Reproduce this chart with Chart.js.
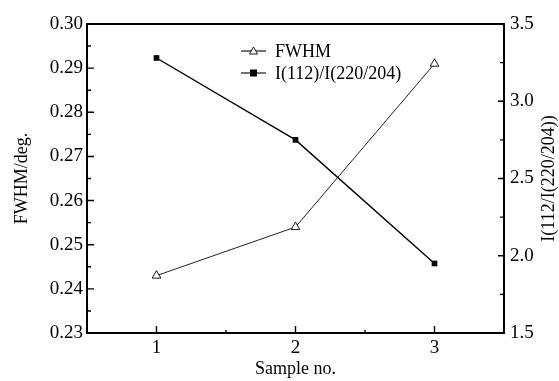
<!DOCTYPE html>
<html>
<head>
<meta charset="utf-8">
<script src="https://cdn.jsdelivr.net/npm/chart.js@4/dist/chart.umd.min.js"></script>
<style>
html,body{margin:0;padding:0;background:#fff;}
#wrap{width:559px;height:381px;position:relative;}
</style>
</head>
<body>
<div id="wrap"><canvas id="c" width="559" height="381"></canvas></div>
<script>
const samples = [1, 2, 3];
const fwhm = [0.243, 0.254, 0.291];
const ratio = [3.28, 2.75, 1.95];
const xTicks = [1, 2, 3];
const yTicks = [0.23, 0.24, 0.25, 0.26, 0.27, 0.28, 0.29, 0.30];
const y1Ticks = [1.5, 2.0, 2.5, 3.0, 3.5];
const seriesNames = ['FWHM', 'I(112)/I(220/204)'];
const xTitle = 'Sample no.';
const yTitle = 'FWHM/deg.';
const y1Title = 'I(112/I(220/204))';

const FONT = "'Liberation Serif', 'Times New Roman', serif";
Chart.defaults.font.family = FONT;
Chart.defaults.color = '#000';

const framePlugin = {
  id: 'frame',
  afterDraw(chart) {
    const ctx = chart.ctx;
    const a = chart.chartArea;
    const sx = chart.scales.x, sy = chart.scales.y, sy1 = chart.scales.y1;
    ctx.save();
    ctx.strokeStyle = '#000';
    ctx.lineWidth = 2;
    ctx.strokeRect(a.left, a.top, a.right - a.left, a.bottom - a.top);
    ctx.lineWidth = 1.4;
    ctx.beginPath();
    for (let v = 0.23; v <= 0.3001; v += 0.005) {
      const major = Math.abs(Math.round(v * 100) - v * 100) < 1e-6;
      const p = sy.getPixelForValue(v);
      ctx.moveTo(a.left, p); ctx.lineTo(a.left + (major ? 7 : 4), p);
    }
    for (let v = 1.5; v <= 3.5001; v += 0.25) {
      const major = Math.abs(Math.round(v * 2) - v * 2) < 1e-6;
      const p = sy1.getPixelForValue(v);
      ctx.moveTo(a.right, p); ctx.lineTo(a.right - (major ? 6 : 4), p);
    }
    for (let v = 1; v <= 3.5001; v += 0.5) {
      const major = Math.abs(Math.round(v) - v) < 1e-6;
      const p = sx.getPixelForValue(v);
      ctx.moveTo(p, a.bottom); ctx.lineTo(p, a.bottom - (major ? 7 : 3));
    }
    ctx.stroke();

    ctx.fillStyle = '#000';
    ctx.font = '18px ' + FONT;
    ctx.textAlign = 'center';
    ctx.textBaseline = 'middle';
    ctx.fillText(xTitle, (a.left + a.right) / 2, 369);
    ctx.save();
    ctx.translate(22, (a.top + a.bottom) / 2);
    ctx.rotate(-Math.PI / 2);
    ctx.fillText(yTitle, 0, 0);
    ctx.restore();
    ctx.save();
    ctx.translate(549, (a.top + a.bottom) / 2);
    ctx.rotate(-Math.PI / 2);
    ctx.fillText(y1Title, 0, 0);
    ctx.restore();

    const rows = [
      {name: seriesNames[0], y: 51, style: 'triangle'},
      {name: seriesNames[1], y: 73, style: 'rect'}
    ];
    ctx.textAlign = 'left';
    ctx.font = '18px ' + FONT;
    rows.forEach(r => {
      ctx.lineWidth = 1.1;
      ctx.strokeStyle = '#000';
      ctx.beginPath();
      ctx.moveTo(241, r.y); ctx.lineTo(266, r.y);
      ctx.stroke();
      if (r.style === 'triangle') {
        ctx.fillStyle = '#fff';
        ctx.beginPath();
        ctx.moveTo(253.5, r.y - 4);
        ctx.lineTo(257.5, r.y + 3);
        ctx.lineTo(249.5, r.y + 3);
        ctx.closePath();
        ctx.fill();
        ctx.lineWidth = 0.9;
        ctx.stroke();
      } else {
        ctx.fillStyle = '#000';
        ctx.fillRect(250, r.y - 3.5, 7, 7);
      }
      ctx.fillStyle = '#000';
      ctx.fillText(r.name, 275, r.y + 1);
    });
    ctx.restore();
  }
};

const ctx = document.getElementById('c').getContext('2d');
new Chart(ctx, {
  type: 'line',
  data: {
    datasets: [
      {
        label: seriesNames[0],
        data: samples.map((s, i) => ({x: s, y: fwhm[i]})),
        xAxisID: 'x', yAxisID: 'y',
        borderColor: '#222', borderWidth: 1,
        pointStyle: 'triangle', pointRadius: 5, pointBorderWidth: 0.9,
        pointBackgroundColor: '#fff', pointBorderColor: '#000',
        tension: 0
      },
      {
        label: seriesNames[1],
        data: samples.map((s, i) => ({x: s, y: ratio[i]})),
        xAxisID: 'x', yAxisID: 'y1',
        borderColor: '#000', borderWidth: 1.4,
        pointStyle: 'rect', pointRadius: 4, pointBorderWidth: 0,
        pointBackgroundColor: '#000', pointBorderColor: '#000',
        tension: 0
      }
    ]
  },
  options: {
    responsive: false,
    animation: false,
    devicePixelRatio: 1,
    layout: {padding: {top: 24, left: 0, right: 0, bottom: 0}},
    plugins: {legend: {display: false}, tooltip: {enabled: false}},
    scales: {
      x: {
        type: 'linear', position: 'bottom', min: 0.5, max: 3.5,
        afterBuildTicks: s => { s.ticks = xTicks.map(v => ({value: v})); },
        afterFit: s => { s.height = 48; },
        grid: {display: false, drawTicks: false},
        border: {display: false},
        ticks: {color: '#000', font: {family: FONT, size: 19}, padding: 4,
                callback: v => String(v), maxRotation: 0}
      },
      y: {
        type: 'linear', position: 'left', min: 0.23, max: 0.30,
        afterBuildTicks: s => { s.ticks = yTicks.map(v => ({value: v})); },
        afterFit: s => { s.width = 87; },
        grid: {display: false, drawTicks: false},
        border: {display: false},
        ticks: {color: '#000', font: {family: FONT, size: 19}, padding: 4,
                callback: v => Number(v).toFixed(2)}
      },
      y1: {
        type: 'linear', position: 'right', min: 1.5, max: 3.5,
        afterBuildTicks: s => { s.ticks = y1Ticks.map(v => ({value: v})); },
        afterFit: s => { s.width = 55; },
        grid: {display: false, drawTicks: false},
        border: {display: false},
        ticks: {color: '#000', font: {family: FONT, size: 19}, padding: 6,
                callback: v => Number(v).toFixed(1)}
      }
    }
  },
  plugins: [framePlugin]
});
</script>
</body>
</html>
